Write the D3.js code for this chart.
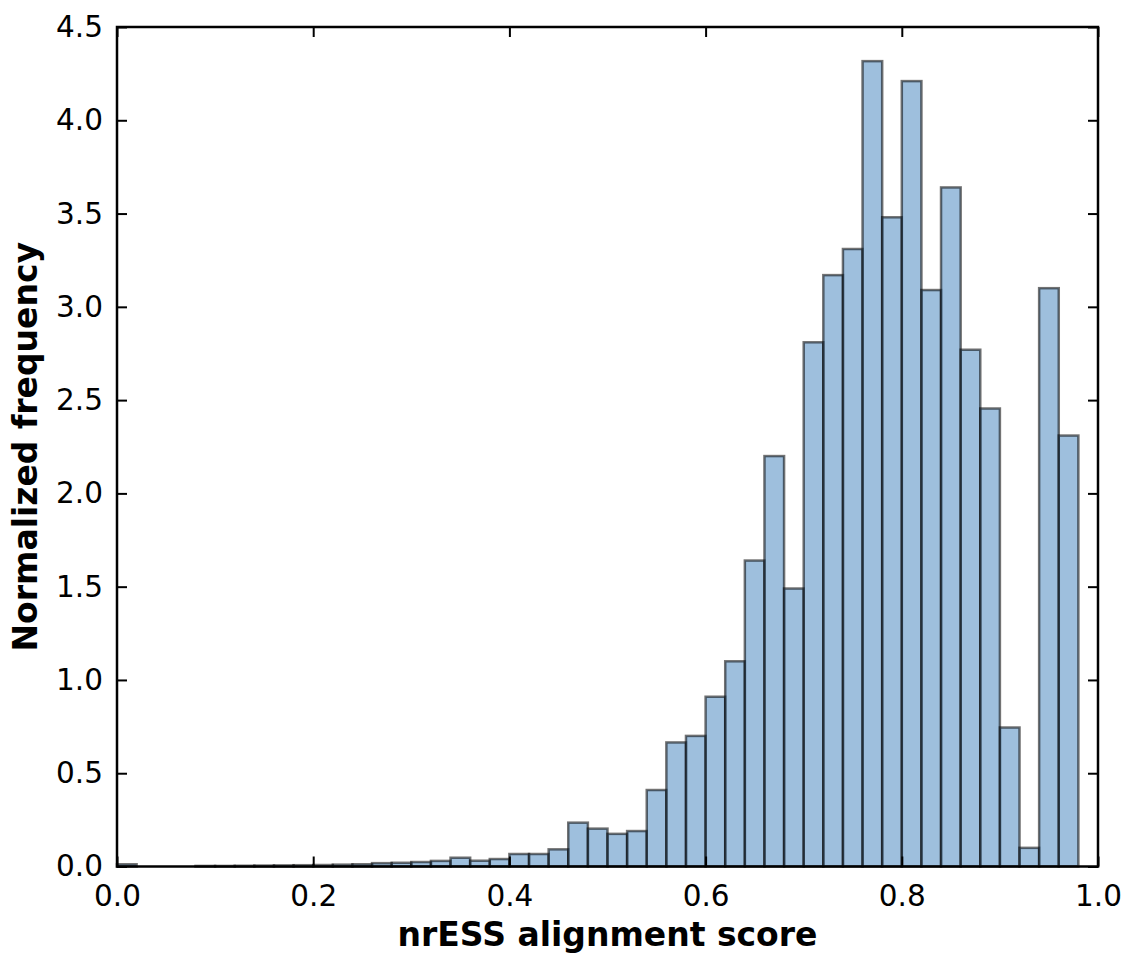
<!DOCTYPE html>
<html><head><meta charset="utf-8">
<script src="https://cdn.jsdelivr.net/npm/d3@7"></script>
<style>body{margin:0;background:#fff}svg{display:block}text{font-family:"DejaVu Sans",sans-serif;fill:#000}</style>
</head><body>
<script>
const binStarts = d3.range(0, 50).map(i => +(i * 0.02).toFixed(2));
const binWidth = 0.02;
const frequencies = [
  0.012, 0, 0, 0, 0.003, 0.003, 0.004, 0.005, 0.006, 0.007,
  0.008, 0.01, 0.012, 0.018, 0.02, 0.024, 0.03, 0.047, 0.031, 0.04,
  0.067, 0.067, 0.092, 0.235, 0.203, 0.175, 0.19, 0.41, 0.665, 0.70,
  0.91, 1.10, 1.64, 2.20, 1.49, 2.81, 3.17, 3.31, 4.317, 3.48,
  4.21, 3.09, 3.64, 2.77, 2.455, 0.745, 0.10, 3.10, 2.31, 0
];
const xTicks = [0.0, 0.2, 0.4, 0.6, 0.8, 1.0];
const yTicks = [0.0, 0.5, 1.0, 1.5, 2.0, 2.5, 3.0, 3.5, 4.0, 4.5];
const xLabel = "nrESS alignment score";
const yLabel = "Normalized frequency";

const W = 1127, H = 955;
const m = {left: 117, right: 1098, top: 27, bottom: 866.5};
const svg = d3.select("body").append("svg").attr("width", W).attr("height", H);
const x = d3.scaleLinear().domain([0, 1]).range([m.left, m.right]);
const y = d3.scaleLinear().domain([0, 4.5]).range([m.bottom, m.top]);

const data = binStarts.map((s, i) => ({s, v: frequencies[i]})).filter(d => d.v > 0);
svg.append("g").selectAll("rect").data(data).join("rect")
  .attr("x", d => x(d.s)).attr("width", d => x(d.s + binWidth) - x(d.s))
  .attr("y", d => y(d.v)).attr("height", d => y(0) - y(d.v))
  .attr("fill", "#3d7fbb").attr("fill-opacity", 0.5)
  .attr("stroke", "#000").attr("stroke-opacity", 0.55).attr("stroke-width", 2.5);

const fmt = d3.format(".1f");
const tl = 10;
const xa = svg.append("g").attr("transform", `translate(0,${m.bottom})`)
  .call(d3.axisBottom(x).tickValues(xTicks).tickFormat(fmt).tickSizeInner(-tl).tickSizeOuter(0).tickPadding(tl + 9));
const xt = svg.append("g").attr("transform", `translate(0,${m.top})`)
  .call(d3.axisTop(x).tickValues(xTicks).tickFormat("").tickSizeInner(-tl).tickSizeOuter(0));
const ya = svg.append("g").attr("transform", `translate(${m.left},0)`)
  .call(d3.axisLeft(y).tickValues(yTicks).tickFormat(fmt).tickSizeInner(-tl).tickSizeOuter(0).tickPadding(tl + 4));
const yr = svg.append("g").attr("transform", `translate(${m.right},0)`)
  .call(d3.axisRight(y).tickValues(yTicks).tickFormat("").tickSizeInner(-tl).tickSizeOuter(0));
[xa, xt, ya, yr].forEach(g => {
  g.select(".domain").remove();
  g.selectAll(".tick line").attr("stroke", "#000").attr("stroke-width", 2);
  g.selectAll(".tick text").attr("font-size", 29.5).attr("font-family", "DejaVu Sans").attr("fill", "#000");
});
svg.append("rect").attr("x", m.left).attr("y", m.top)
  .attr("width", m.right - m.left).attr("height", m.bottom - m.top)
  .attr("fill", "none").attr("stroke", "#000").attr("stroke-width", 2.5);

svg.append("text").attr("x", (m.left + m.right) / 2).attr("y", 946)
  .attr("text-anchor", "middle").attr("font-size", 33).attr("font-weight", "bold").text(xLabel);
svg.append("text").attr("transform", `translate(37,${(m.top + m.bottom) / 2}) rotate(-90)`)
  .attr("text-anchor", "middle").attr("font-size", 33).attr("font-weight", "bold").text(yLabel);
</script>
</body></html>
